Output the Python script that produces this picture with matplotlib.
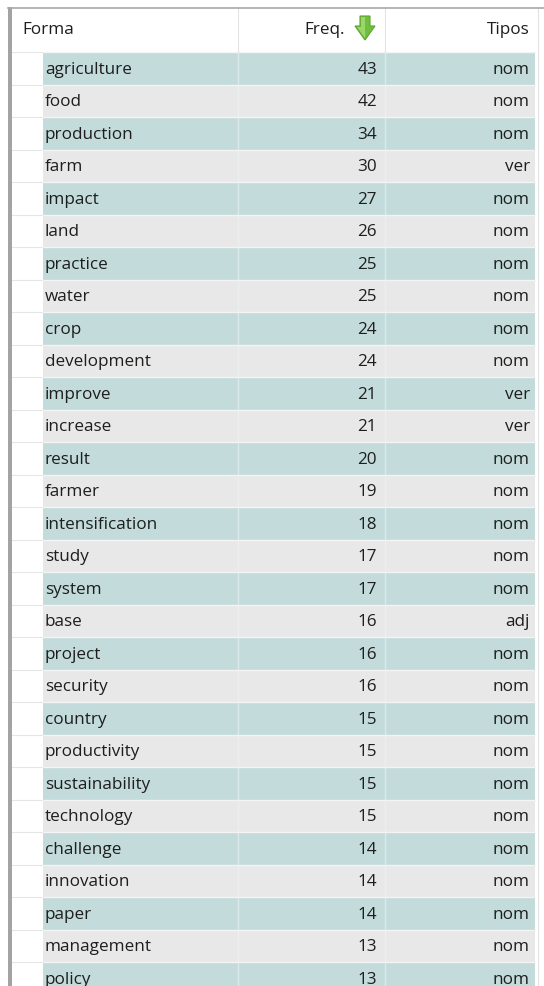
import matplotlib
matplotlib.use("Agg")
import matplotlib.pyplot as plt
from matplotlib.patches import Polygon, Rectangle

words = ["agriculture", "food", "production", "farm", "impact", "land", "practice",
         "water", "crop", "development", "improve", "increase", "result", "farmer",
         "intensification", "study", "system", "base", "project", "security",
         "country", "productivity", "sustainability", "technology", "challenge",
         "innovation", "paper", "management", "policy"]
freqs = [43, 42, 34, 30, 27, 26, 25, 25, 24, 24, 21, 21, 20, 19, 18, 17, 17, 16,
         16, 16, 15, 15, 15, 15, 14, 14, 14, 13, 13]
tipos = ["nom", "nom", "nom", "ver", "nom", "nom", "nom", "nom", "nom", "nom",
         "ver", "ver", "nom", "nom", "nom", "nom", "nom", "adj", "nom", "nom",
         "nom", "nom", "nom", "nom", "nom", "nom", "nom", "nom", "nom"]
headers = ["Forma", "Freq.", "Tipos"]

W, H = 544, 987
fig = plt.figure(figsize=(W / 100, H / 100), dpi=100)
ax = fig.add_axes([0, 0, 1, 1])
ax.set_xlim(0, W)
ax.set_ylim(H, 0)
ax.axis("off")
fig.patch.set_facecolor("white")

FONT = ["Open Sans", "DejaVu Sans"]
FS = 12.3
TXT = "#1e1e1e"

top = 53.0
rh = 32.5
x_shade = 43
x_c1 = 238
x_c2 = 385
x_right = 535
teal = "#c3dbdb"
gray = "#e9e8e8"

n = len(words)
ys = [top + rh * (i + 0.5) for i in range(n)]
cols = [teal if i % 2 == 0 else gray for i in range(n)]
ax.barh(ys, [x_right - x_shade] * n, left=x_shade, height=rh, color=cols,
        edgecolor="none", zorder=1)

# row separators
for i in range(n + 1):
    y = top + rh * i
    ax.plot([12, x_shade], [y, y], color="#e6e6e6", lw=0.8, zorder=2)
    ax.plot([x_shade, x_right], [y, y], color="#f4f4f4", lw=1.0, zorder=2)
# column separators
for x in (x_c1, x_c2):
    ax.plot([x, x], [top, H], color="#eef3f3", lw=1.0, zorder=2, alpha=0.6)
    ax.plot([x, x], [8, top], color="#e4e4e4", lw=0.8, zorder=2)
ax.plot([537.5, 537.5], [8, H], color="#e2e2e2", lw=0.8, zorder=2)

# borders
ax.add_patch(Rectangle((8, 8), 4, H - 8, color="#a3a3a3", zorder=3, lw=0))
ax.plot([8, W], [8.5, 8.5], color="#a8a8a8", lw=1.2, zorder=3)

# header
hy = 30
ax.text(22, hy, headers[0], fontsize=FS, family=FONT, color=TXT, va="center", ha="left")
ax.text(345, hy, headers[1], fontsize=FS, family=FONT, color=TXT, va="center", ha="right")
ax.text(530, hy, headers[2], fontsize=FS, family=FONT, color=TXT, va="center", ha="right")

# green sort arrow
cx = 365
arrow = [(cx - 5, 17), (cx + 5, 17), (cx + 5, 27), (cx + 10, 27), (cx, 41),
         (cx - 10, 27), (cx - 5, 27)]
ax.add_patch(Polygon(arrow, closed=True, facecolor="#72be40", edgecolor="#5aa52e",
                     lw=0.8, zorder=4))
ax.add_patch(Polygon([(cx - 4, 18), (cx, 18), (cx, 39), (cx - 8, 28), (cx - 4, 28)],
                     closed=True, facecolor="#9ad66a", edgecolor="none", zorder=4))

# rows
for i in range(n):
    y = ys[i] + 0.5
    ax.text(45, y, words[i], fontsize=FS, family=FONT, color=TXT, va="center", ha="left")
    ax.text(377, y, str(freqs[i]), fontsize=FS, family=FONT, color=TXT, va="center", ha="right")
    ax.text(530, y, tipos[i], fontsize=FS, family=FONT, color=TXT, va="center", ha="right")

fig.savefig("out.png", dpi=100, facecolor="white")
